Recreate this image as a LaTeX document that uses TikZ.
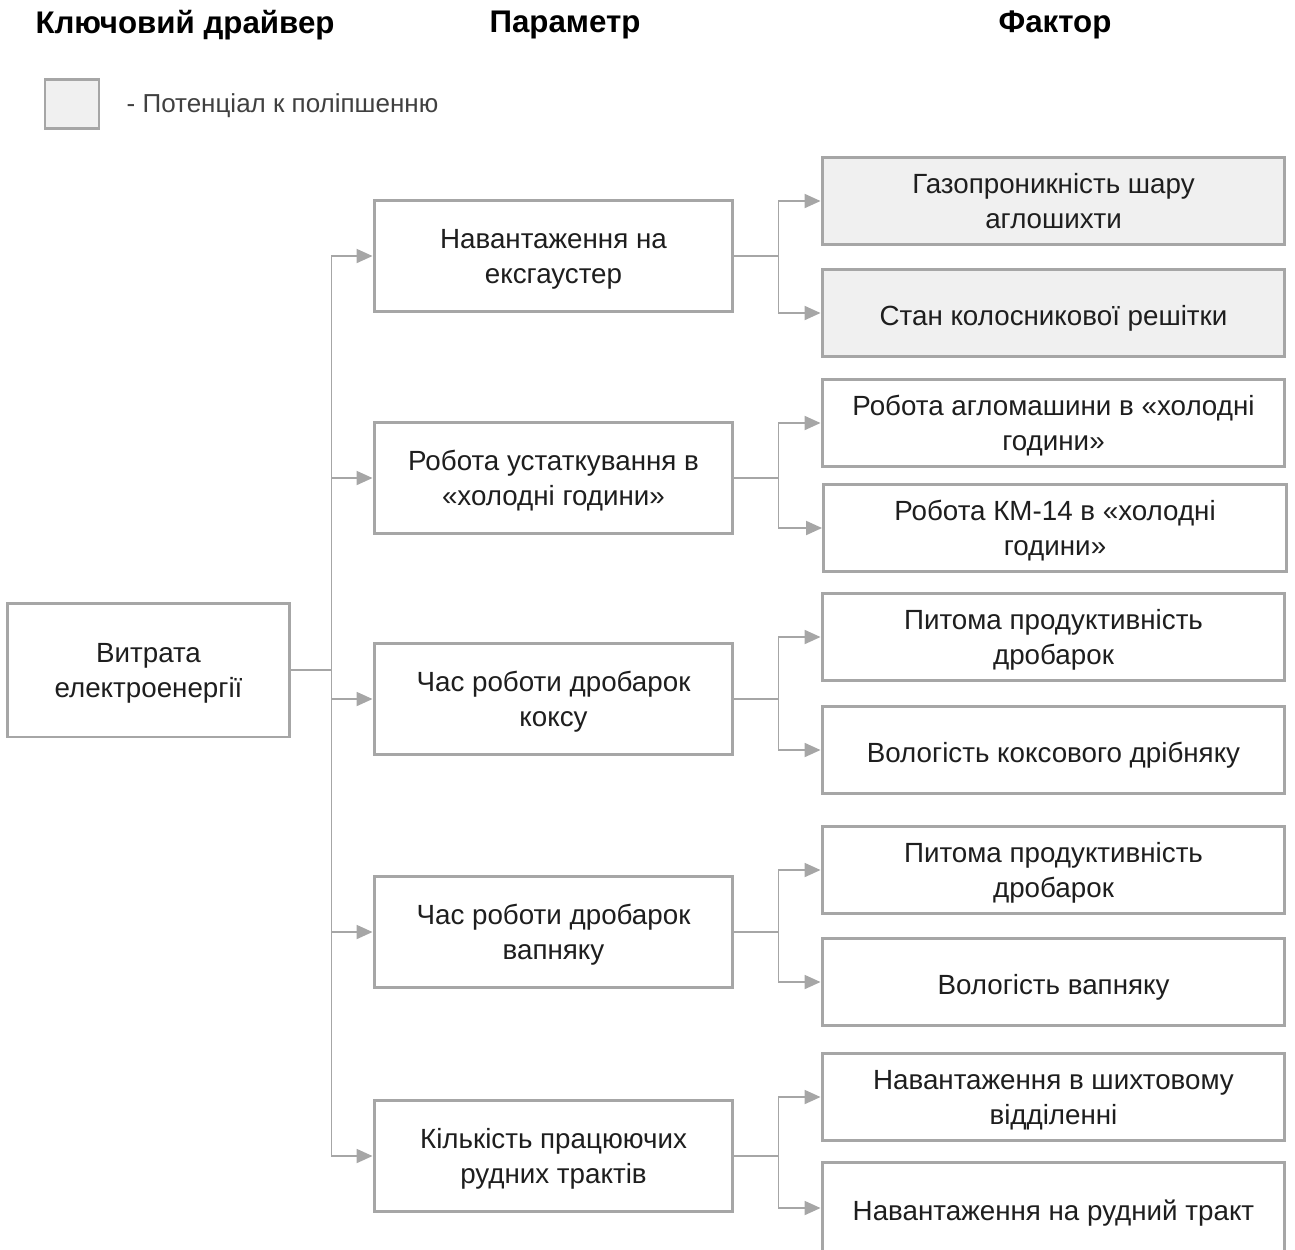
\documentclass[tikz,border=0pt]{standalone}
\usepackage{fontspec}
\setmainfont{Liberation Sans}
\usetikzlibrary{arrows.meta,positioning}
\definecolor{drvgray}{RGB}{166,166,166}
\definecolor{drvfill}{RGB}{240,240,240}
\definecolor{drvtext}{RGB}{30,30,30}

\begin{document}
\begin{tikzpicture}[x=0.02cm, y=-0.02cm,
    box/.style={draw=drvgray, line width=1.7pt, fill=white, align=center, inner sep=0pt,
      text=drvtext, font=\fontsize{15.8}{19.5}\selectfont,
      text height=32.5pt, text depth=1.7pt},
    oneline/.style={text height=15.4pt},
    rootbox/.style={box, minimum width=5.66cm, minimum height=2.68cm},
    parbox/.style={box, minimum width=7.18cm, minimum height=2.22cm},
    facbox/.style={box, minimum width=9.26cm, minimum height=1.74cm},
    hot/.style={fill=drvfill},
    head/.style={text=black, font=\fontsize{17.8}{22}\selectfont\bfseries},
    link/.style={draw=drvgray, line width=1.1pt},
    arr/.style={link, -{Triangle[length=0.32cm, width=0.28cm]}}]
  \useasboundingbox (0,0) rectangle (1295,1249);

  % headers and legend
  \node[head] (hdrv) at (185,25) {Ключовий драйвер};
  \node[head] (hpar) at (565,25) {Параметр};
  \node[head] (hfac) at (1055,25) {Фактор};
  \node[draw=drvgray, line width=1.7pt, fill=drvfill, minimum width=1.08cm, minimum height=0.98cm] (leg) at (72,104) {};
  \node[anchor=west, text=drvtext!85, font=\fontsize{14.8}{17}\selectfont, right=0.4cm of leg, yshift=-0.04cm] (legtxt) {- Потенціал к поліпшенню};

  % key driver and parameters
  \node[rootbox] (vytr) at (148.5,670) {Витрата\\електроенергії};
  \node[parbox] (navex) at (553.5,256) {Навантаження на\\ексгаустер};
  \node[parbox] (ustat) at (553.5,478) {Робота устаткування в\\«холодні години»};
  \node[parbox] (koks) at (553.5,699) {Час роботи дробарок\\коксу};
  \node[parbox] (vapn) at (553.5,932) {Час роботи дробарок\\вапняку};
  \node[parbox] (trakt) at (553.5,1156) {Кількість працюючих\\рудних трактів};

  % factors
  \node[facbox, hot] (gaz) at (1053.5,201) {Газопроникність шару\\аглошихти};
  \node[facbox, hot, oneline] (kolos) at (1053.5,313) {Стан колосникової решітки};
  \node[facbox] (aglo) at (1053.5,423) {Робота агломашини в «холодні\\години»};
  \node[facbox] (km) at (1055,528) {Робота КМ-14 в «холодні\\години»};
  \node[facbox] (pit1) at (1053.5,637) {Питома продуктивність\\дробарок};
  \node[facbox, oneline] (vol1) at (1053.5,750) {Вологість коксового дрібняку};
  \node[facbox] (pit2) at (1053.5,870) {Питома продуктивність\\дробарок};
  \node[facbox, oneline] (vol2) at (1053.5,982) {Вологість вапняку};
  \node[facbox] (shykh) at (1053.5,1097) {Навантаження в шихтовому\\відділенні};
  \node[facbox, oneline, minimum height=1.84cm] (rud) at (1053.5,1208) {Навантаження на рудний тракт};

  % trunk
  \draw[link] (vytr.east) -- ++(40,0) coordinate (hub);
  \draw[arr] (hub) |- (navex.west);
  \draw[arr] (hub) |- (ustat.west);
  \draw[arr] (hub) |- (koks.west);
  \draw[arr] (hub) |- (vapn.west);
  \draw[arr] (hub) |- (trakt.west);

  % branches
  \draw[link] (navex.east) -- ++(44,0) coordinate (b1);
  \draw[arr] (b1) |- (gaz.west);
  \draw[arr] (b1) |- (kolos.west);
  \draw[link] (ustat.east) -- ++(44,0) coordinate (b2);
  \draw[arr] (b2) |- (aglo.west);
  \draw[arr] (b2) |- (km.west);
  \draw[link] (koks.east) -- ++(44,0) coordinate (b3);
  \draw[arr] (b3) |- (pit1.west);
  \draw[arr] (b3) |- (vol1.west);
  \draw[link] (vapn.east) -- ++(44,0) coordinate (b4);
  \draw[arr] (b4) |- (pit2.west);
  \draw[arr] (b4) |- (vol2.west);
  \draw[link] (trakt.east) -- ++(44,0) coordinate (b5);
  \draw[arr] (b5) |- (shykh.west);
  \draw[arr] (b5) |- (rud.west);
\end{tikzpicture}
\end{document}
